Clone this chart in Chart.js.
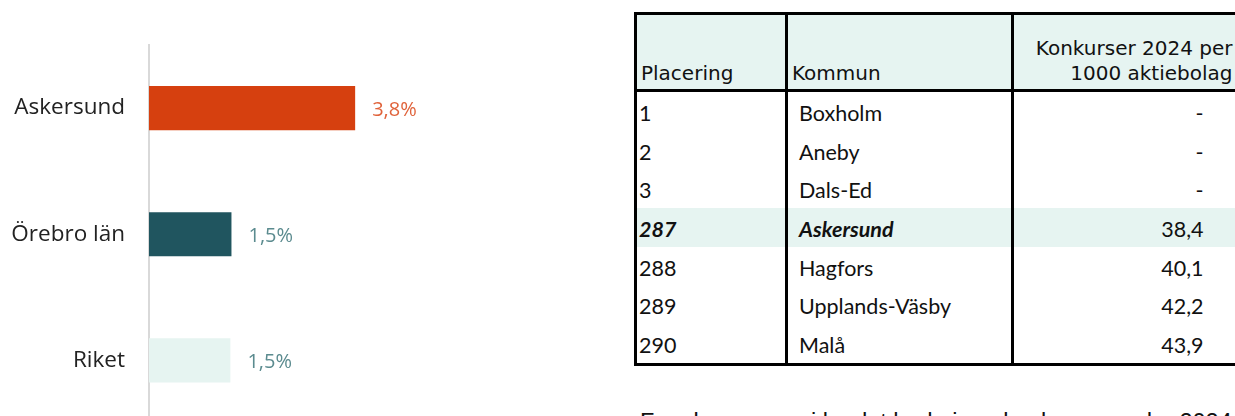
<!DOCTYPE html>
<html>
<head>
<meta charset="utf-8">
<script src="https://cdn.jsdelivr.net/npm/chart.js@4"></script>
<style>
  html, body { margin: 0; padding: 0; background: #fff; }
  body { width: 1235px; height: 416px; overflow: hidden; position: relative; }
  #shareChart { position: absolute; left: 0; top: 0; }
  #rankTable {
    position: absolute; left: 634px; top: 12px;
    border-collapse: collapse; table-layout: fixed; width: 610px;
  }
  #rankTable th {
    background: #e6f4f1; font-family: "DejaVu Sans", sans-serif; font-weight: normal;
    font-size: 20px; color: #111; height: 71px; vertical-align: bottom;
    text-align: left; padding: 0 0 3px 4px; border-bottom: 3px solid #000; line-height: 25px;
  }
  #rankTable th.num { text-align: right; padding-right: 13px; }
  #rankTable td {
    font-family: Lato, sans-serif; font-size: 21.5px; color: #111; height: 35.7px;
    padding: 3px 0 0 2px; vertical-align: middle; line-height: 24px;
  }
  #rankTable td.kommun { padding-left: 11px; }
  #rankTable td.num { text-align: right; padding-right: 42px; }
  #rankTable tr.hl td { background: #e6f4f1; }
  #rankTable tr.hl td.c1, #rankTable tr.hl td.c2 { font-weight: bold; font-style: italic; }
  #rankTable .c1, #rankTable .c2, #rankTable .c3 { border-left: 3px solid #000; }
  #rankTable { border-top: 3px solid #000; border-bottom: 3px solid #000; }
  #note {
    position: absolute; left: 640px; top: 409px; white-space: nowrap;
    font-family: "Liberation Sans", sans-serif; font-size: 23.5px; color: #111;
  }
</style>
</head>
<body>
<canvas id="shareChart" width="600" height="461"></canvas>
<table id="rankTable">
  <colgroup><col style="width:151px"><col style="width:226px"><col style="width:233px"></colgroup>
  <thead><tr id="headRow"></tr></thead>
  <tbody id="rankBody"></tbody>
</table>
<div id="note">Fem kommuner i landet hade inga konkurser under 2024</div>
<script>
  // Bar chart data
  const categories = ['Askersund', 'Örebro län', 'Riket'];
  const shares = [3.8, 1.52, 1.5];
  const shareLabels = ['3,8%', '1,5%', '1,5%'];
  const barColors = ['#d6400f', '#20555f', '#e6f4f1'];
  const labelColors = ['#e0633b', '#5b8b8f', '#5b8b8f'];

  // Table data
  const tableHeaders = ['Placering', 'Kommun', 'Konkurser 2024 per<br>1000 aktiebolag'];
  const placings = ['1', '2', '3', '287', '288', '289', '290'];
  const kommuner = ['Boxholm', 'Aneby', 'Dals-Ed', 'Askersund', 'Hagfors', 'Upplands-Väsby', 'Malå'];
  const rateValues = ['-', '-', '-', '38,4', '40,1', '42,2', '43,9'];
  const highlightKommun = 'Askersund';

  // Build table
  document.getElementById('headRow').innerHTML = tableHeaders.map((h, i) =>
    `<th class="c${i + 1}${i === 2 ? ' num' : ''}">${h}</th>`).join('');
  document.getElementById('rankBody').innerHTML = placings.map((p, i) => `
    <tr class="${kommuner[i] === highlightKommun ? 'hl' : ''}">
      <td class="c1">${p}</td>
      <td class="c2 kommun">${kommuner[i]}</td>
      <td class="c3 num">${rateValues[i]}</td>
    </tr>`).join('');

  // Value labels to the right of each bar
  const valueLabels = {
    id: 'valueLabels',
    afterDatasetsDraw(chart) {
      const { ctx } = chart;
      const meta = chart.getDatasetMeta(0);
      ctx.save();
      ctx.font = '20px "Open Sans", sans-serif';
      ctx.textBaseline = 'middle';
      ctx.textAlign = 'left';
      meta.data.forEach((bar, i) => {
        ctx.fillStyle = labelColors[i];
        ctx.fillText(shareLabels[i], bar.x + 17, bar.y + 2);
      });
      ctx.restore();
    }
  };

  new Chart(document.getElementById('shareChart'), {
    type: 'bar',
    data: {
      labels: categories,
      datasets: [{
        data: shares,
        backgroundColor: barColors,
        borderWidth: 0,
        barPercentage: 0.35,
        categoryPercentage: 1
      }]
    },
    options: {
      indexAxis: 'y',
      responsive: false,
      animation: false,
      layout: { padding: { top: 45, right: 17, left: 0, bottom: 0 } },
      plugins: { legend: { display: false }, tooltip: { enabled: false } },
      scales: {
        x: { display: false, min: 0, max: 8 },
        y: {
          afterFit(scale) { scale.width = 149; },
          grid: { display: false, drawTicks: false },
          border: { display: true, color: '#d9d9d9', width: 2 },
          ticks: {
            padding: 24,
            color: '#222',
            font: { family: '"Open Sans", sans-serif', size: 22.5 }
          }
        }
      }
    },
    plugins: [valueLabels]
  });
</script>
</body>
</html>
